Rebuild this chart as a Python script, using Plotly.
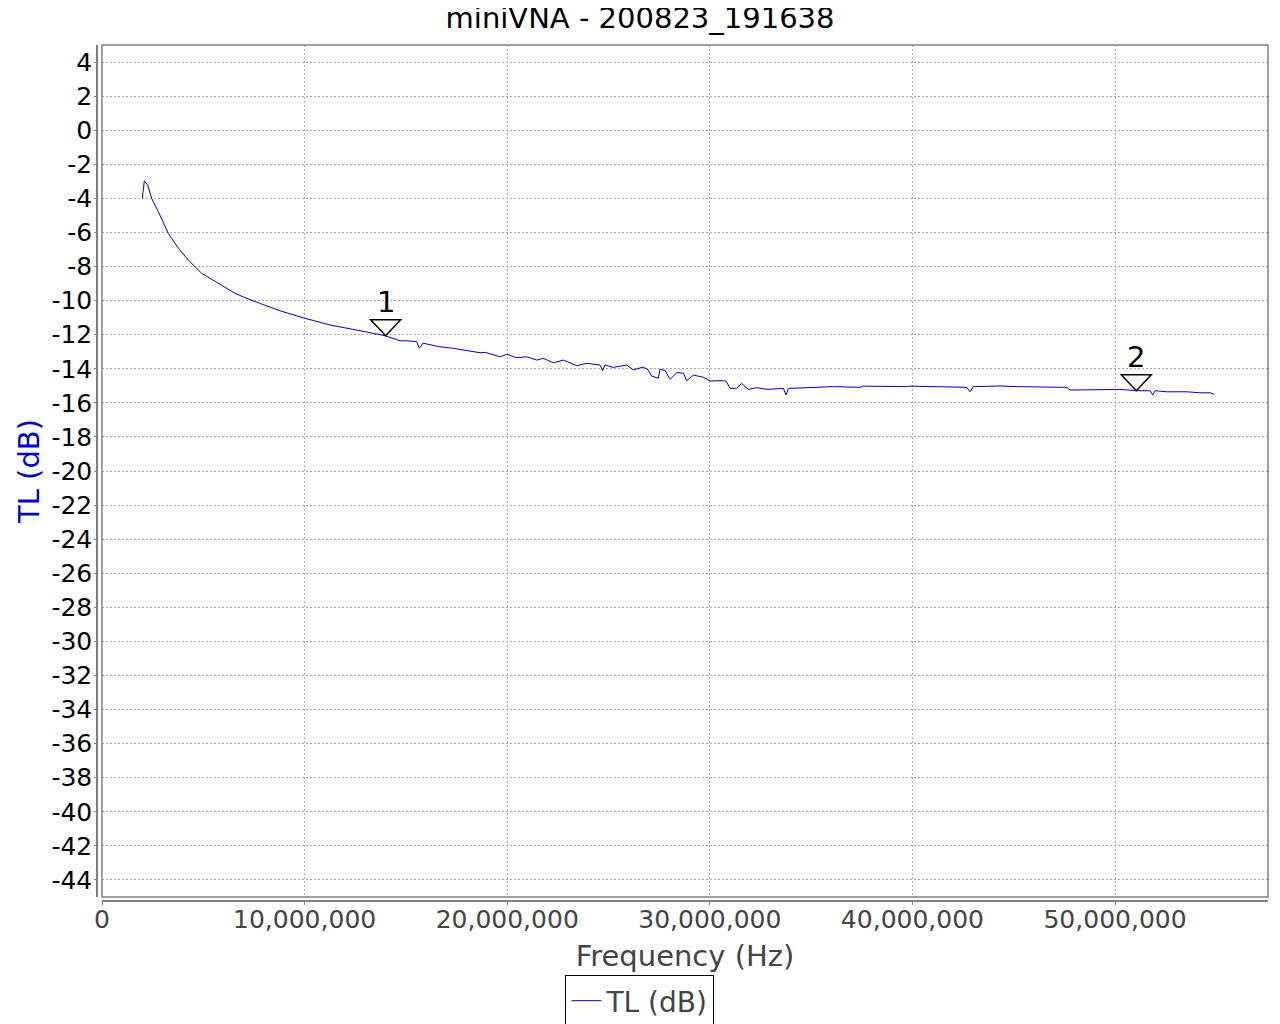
import plotly.graph_objects as go

# trace (MHz, dB)
freq_mhz = [
    1.99, 2.09, 2.26, 2.45, 2.78, 3.27, 3.77, 4.26, 4.92, 5.74, 6.56, 7.22, 7.88,
    8.79, 10.02, 11.25, 12.57, 13.97, 14.71, 15.04, 15.53, 15.66, 15.84, 16.68,
    17.33, 18.00, 18.66, 18.92, 19.64, 19.97, 20.47, 20.96, 21.46, 21.78, 22.28,
    22.77, 23.43, 23.92, 24.58, 24.71, 24.83, 25.24, 25.90, 26.22, 26.55, 26.71,
    26.96, 27.13, 27.46, 27.54, 27.79, 28.04, 28.37, 28.70, 28.86, 29.19, 29.68,
    30.01, 30.50, 30.80, 31.00, 31.33, 31.57, 31.90, 32.31, 32.81, 33.63, 33.76,
    33.88, 35.44, 36.10, 37.41, 37.57, 39.72, 39.88, 42.68, 42.84, 43.01, 44.32,
    45.15, 47.62, 47.78, 48.44, 49.26, 50.25, 51.07, 51.73, 51.86, 51.98, 52.55,
    53.54, 54.19, 54.69, 54.90,
]
tl_db = [
    -4.00, -2.98, -3.22, -4.00, -4.78, -6.05, -6.93, -7.62, -8.40, -8.99, -9.57,
    -9.91, -10.20, -10.60, -11.04, -11.43, -11.73, -12.06, -12.36, -12.36, -12.41,
    -12.80, -12.50, -12.71, -12.80, -12.94, -13.06, -13.04, -13.30, -13.15, -13.35,
    -13.30, -13.49, -13.39, -13.65, -13.49, -13.82, -13.68, -13.78, -14.11, -13.78,
    -13.92, -13.78, -14.07, -13.98, -13.90, -14.07, -14.43, -14.56, -14.03, -14.10,
    -14.62, -14.23, -14.26, -14.70, -14.37, -14.50, -14.72, -14.70, -14.72, -15.15,
    -15.15, -14.86, -15.21, -15.11, -15.21, -15.15, -15.54, -15.15, -15.09, -15.05,
    -15.09, -15.02, -15.05, -15.02, -15.09, -15.35, -15.05, -15.01, -15.05, -15.09,
    -15.25, -15.25, -15.21, -15.21, -15.29, -15.29, -15.54, -15.29, -15.35, -15.35,
    -15.41, -15.41, -15.50,
]

marker_freq_mhz = [14.0, 51.05]
marker_db = [-12.06, -15.29]
marker_labels = ["1", "2"]

y_ticks = list(range(-44, 5, 2))

font = "DejaVu Sans"
line_blue = "#0000c8"
grid = "#a8a8a8"

freq_hz = [f * 1e6 for f in freq_mhz]

fig = go.Figure()
fig.add_trace(go.Scatter(
    x=freq_hz, y=tl_db, mode="lines", name="TL (dB)",
    line=dict(color=line_blue, width=1),
))

for f, d, lab in zip(marker_freq_mhz, marker_db, marker_labels):
    fig.add_shape(
        type="path", xref="x", yref="y",
        xsizemode="pixel", ysizemode="pixel",
        xanchor=f * 1e6, yanchor=d,
        path="M-15,16 L15,16 L0,0 Z",
        line=dict(color="black", width=1.5),
    )
    fig.add_annotation(
        x=f * 1e6, y=d, text=lab, showarrow=False, yshift=34,
        font=dict(family=font, size=29, color="black"),
    )

# plot border
fig.add_shape(
    type="rect", xref="x domain", yref="y domain", x0=0, x1=1, y0=0, y1=1,
    line=dict(color="#808080", width=1.5), layer="above",
)

# the page puts the figure 8px in from the top-left corner
fig.update_layout(
    width=1280, height=1024,
    margin=dict(l=89, r=20, t=37, b=131, autoexpand=False),
    paper_bgcolor="white", plot_bgcolor="white",
    font=dict(family=font, size=25, color="#444444"),
    title=dict(text="miniVNA - 200823_191638", x=0.4938, xanchor="center",
               y=0.990, yanchor="middle",
               font=dict(family=font, size=29, color="black")),
    showlegend=True,
    legend=dict(x=0.4637, xanchor="center", y=-0.1168, yanchor="middle",
                orientation="h", bordercolor="black", borderwidth=1,
                itemwidth=30, font=dict(family=font, size=28, color="#444444")),
    xaxis=dict(
        domain=[0.00427, 1], anchor="free", position=0, automargin=False,
        range=[0, 57.55e6], dtick=10e6, tick0=0, tickformat=",d",
        showgrid=True, gridcolor=grid, griddash="2px,2px", gridwidth=1,
        showline=True, linecolor="#808080", linewidth=1.5,
        ticks="outside", ticklen=3, tickcolor="#808080", ticklabelstandoff=-7,
        tickfont=dict(family=font, size=25, color="#444444"),
        title=dict(text="Frequency (Hz)", standoff=12,
                   font=dict(family=font, size=29, color="#444444")),
        zeroline=False,
    ),
    yaxis=dict(
        domain=[0.00467, 1], anchor="free", position=0, automargin=False,
        range=[-45, 5], tickvals=y_ticks, ticktext=[str(v) for v in y_ticks],
        showgrid=True, gridcolor=grid, griddash="2px,2px", gridwidth=1,
        showline=True, linecolor="#808080", linewidth=1.5,
        ticks="outside", ticklen=2, tickcolor="#808080", ticklabelstandoff=-3,
        tickfont=dict(family=font, size=25, color="black"),
        title=dict(text="TL (dB)", standoff=2,
                   font=dict(family=font, size=29, color="#0000cc")),
        zeroline=False,
    ),
)

fig.write_html("out.html")
